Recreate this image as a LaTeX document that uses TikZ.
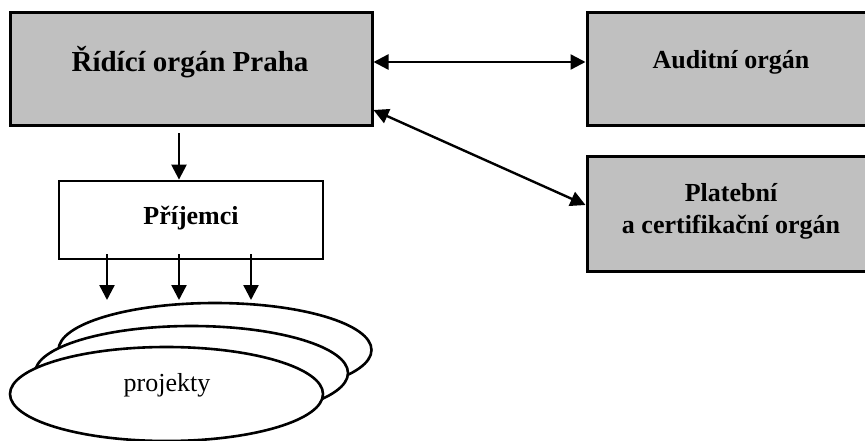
\documentclass[tikz,border=0pt]{standalone}
\usepackage{fontspec}
\setmainfont{Liberation Serif}
\usetikzlibrary{arrows.meta,shapes.geometric}
\tikzset{
  graybox/.style={draw=black, line width=3pt, fill={rgb,255:red,192;green,192;blue,192}, inner sep=0pt},
  whitebox/.style={draw=black, line width=2.8pt, fill=white, inner sep=0pt},
  proj/.style={draw=black, line width=2.6pt, fill=white, ellipse, inner sep=0pt, minimum width=313pt, minimum height=94pt},
  bigtxt/.style={font=\fontsize{29pt}{34pt}\selectfont\bfseries, inner sep=0pt},
  midtxt/.style={font=\fontsize{26pt}{32pt}\selectfont\bfseries, inner sep=0pt, align=center},
  plaintxt/.style={font=\fontsize{26pt}{32pt}\selectfont, inner sep=0pt},
  arr/.style={line width=2.4pt, -{Triangle[length=15pt,width=15pt]}},
  darr/.style={line width=2.4pt, {Triangle[length=15pt,width=15pt]}-{Triangle[length=15pt,width=15pt]}}
}
\begin{document}
\begin{tikzpicture}[x=1pt, y=-1pt]
\useasboundingbox (0,0) rectangle (865,441);
\clip (0,0) rectangle (865,441);
% boxes
\node[graybox, minimum width=362pt, minimum height=113pt] (ridici) at (191,69.5) {};
\node[bigtxt] (ridicit) at (190,62) {Řídící orgán Praha};
\node[graybox, minimum width=288pt, minimum height=113pt] (audit) at (731,69.5) {};
\node[midtxt] (auditt) at (731,62) {Auditní orgán};
\node[graybox, minimum width=288pt, minimum height=114pt] (plat) at (731,214) {};
\node[midtxt] (platt) at (731,211) {Platební\\a certifikační orgán};
\node[whitebox, minimum width=264pt, minimum height=78pt] (prij) at (191,220) {};
\node[midtxt] (prijt) at (191,218) {Příjemci};
% ellipses
\node[proj] (p3) at (215,350) {};
\node[proj] (p2) at (191.5,373) {};
\node[proj] (p1) at (166.5,394) {};
\node[plaintxt] (pt) at (167,385) {projekty};
% connectors
\draw[darr] ([yshift=7.5pt]ridici.east) -- ([yshift=7.5pt]audit.west);
\draw[darr] ([yshift=-40.5pt]ridici.east) -- ([yshift=9pt]plat.west);
\draw[arr] ([xshift=-12pt,yshift=-6pt]ridici.south) -- ([xshift=-12pt]prij.north);
\coordinate (t1) at (107,300);
\coordinate (t2) at (179,300);
\coordinate (t3) at (251,300);
\draw[arr] ([xshift=-84pt,yshift=6pt]prij.south) -- (t1);
\draw[arr] ([xshift=-12pt,yshift=6pt]prij.south) -- (t2);
\draw[arr] ([xshift=60pt,yshift=6pt]prij.south) -- (t3);
\end{tikzpicture}
\end{document}
